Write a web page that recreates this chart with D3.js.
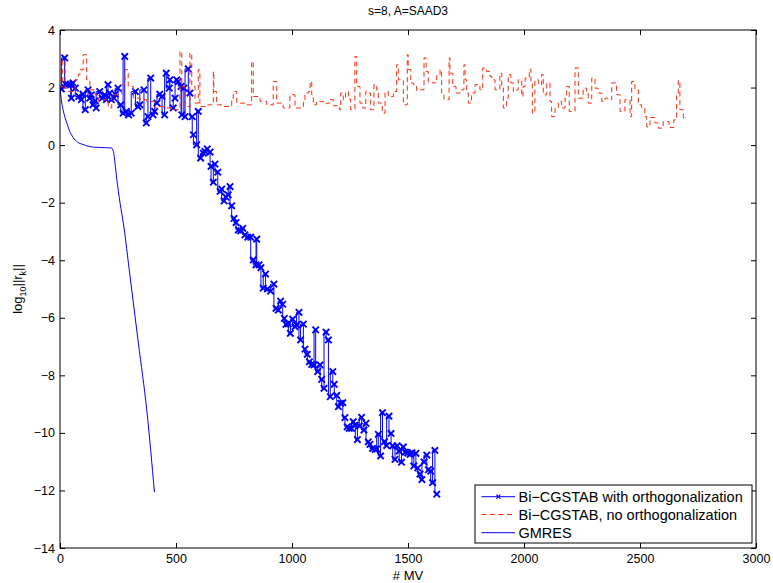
<!DOCTYPE html>
<html>
<head>
<meta charset="utf-8">
<script src="https://cdn.jsdelivr.net/npm/d3@7"></script>
<style>
  body { margin: 0; background: #fff; }
  svg { display: block; }
  text { font-family: "Liberation Sans", Arial, Helvetica, sans-serif; fill: #000; }
</style>
</head>
<body>
<svg id="chart" width="773" height="583"></svg>
<script>
// Residual histories: log10 of the residual norm against the number of matrix-vector products.

// Bi-CGSTAB with orthogonalization
const mvOrtho = [0,6,20,23,34,46,49,56,66,81, 92,99,109,121,128,135,142,152,156,171,
  182,193,200,207,214,221,233,238,250,262, 272,279,286,296,307,325,336,344,362,372,
  379,391,401,408,418,430,440,451,458,471, 474,488,496,503,510,522,525,534,539,553,
  560,570,575,589,596,606,618,625,635,647, 651,661,668,680,690,697,707,716,725,733,
  740,750,759,769,779,788,797,809,822,833, 845,848,858,866,876,886,894,908,922,931,
  941,951,960,967,974,984,993,1003,1013,1020, 1030,1037,1049,1056,1066,1075,1085,1095,1102,1111,
  1121,1128,1138,1147,1157,1165,1176,1182,1193,1200, 1210,1219,1228,1238,1247,1257,1264,1273,1282,1290,
  1300,1310,1319,1329,1336,1347,1358,1365,1372,1382, 1390,1399,1408,1418,1427,1434,1444,1453,1462,1472,
  1480,1489,1499,1509,1517,1525,1534,1542,1552,1560, 1569,1581,1588,1598,1606,1616,1624];
const resOrtho = [2.0,1.95,3.03,2.12,2.10,2.10,1.63,2.16,1.98,1.69, 1.58,1.77,1.23,1.92,1.63,1.75,1.40,1.54,1.29,1.86,
  1.63,1.75,1.58,2.10,1.81,1.58,1.63,1.77,1.98,1.40, 1.11,3.08,1.17,1.05,1.11,1.86,1.34,1.40,1.92,0.77,
  0.99,2.33,1.05,1.17,1.46,1.77,1.69,1.05,2.50,1.98, 2.27,1.29,1.63,2.27,2.21,2.04,1.05,1.98,0.99,2.65,
  1.81,0.99,0.36,0.01,1.17,-0.45,-0.28,-0.22,-0.13,-0.24, -0.74,-1.29,-0.66,-0.94,-1.61,-1.53,-1.94,-1.81,-1.73,-1.44,
  -2.11,-2.55,-2.69,-2.95,-2.98,-2.89,-3.12,-3.20,-3.20,-3.99, -4.16,-3.27,-4.16,-4.26,-4.97,-4.48,-5.00,-5.07,-4.83,-5.67,
  -5.73,-5.42,-5.53,-6.02,-6.23,-6.21,-6.54,-6.05,-6.31,-6.25, -5.81,-6.77,-6.22,-7.09,-7.27,-7.53,-7.62,-7.64,-6.42,-7.87,
  -7.64,-8.14,-8.45,-6.50,-6.77,-8.74,-7.87,-8.31,-8.70,-9.09, -8.97,-8.95,-9.47,-9.79,-9.84,-9.84,-9.61,-9.73,-10.23,-9.76,
  -9.46,-9.90,-9.67,-10.31,-10.40,-10.54,-10.57,-10.56,-10.05,-10.80, -9.30,-10.30,-10.44,-9.42,-10.02,-10.45,-10.92,-10.45,-10.63,-11.02,
  -10.49,-10.67,-10.70,-10.75,-10.69,-11.15,-10.71,-11.22,-11.43,-11.62, -11.01,-10.77,-11.28,-11.33,-11.73,-10.61,-12.13];

// Bi-CGSTAB without orthogonalization
const mvPlain = [0,3,12,22,36,57,65,79,86,100, 115,129,151,165,187,208,223,244,266,280,
  294,316,345,374,409,431,460,488,517,525, 539,560,568,582,596,603,632,661,663,675,
  697,740,747,762,797,826,833,862,891,919, 934,962,991,1013,1049,1056,1070,1078,1085,1092,
  1106,1135,1150,1164,1178,1204,1210,1221,1231,1243, 1253,1271,1279,1293,1305,1318,1332,1339,1353,1365,
  1372,1389,1401,1415,1437,1451,1458,1480,1497,1501, 1512,1523,1537,1552,1569,1578,1587,1609,1624,1638,
  1645,1655,1677,1681,1693,1707,1724,1741,1746,1753, 1760,1774,1789,1810,1822,1839,1853,1861,1875,1896,
  1904,1911,1925,1932,1943,1954,1968,1975,1990,1996, 2005,2023,2030,2036,2047,2062,2076,2083,2098,2112,
  2119,2134,2148,2162,2177,2184,2195,2220,2234,2255, 2270,2277,2292,2306,2320,2335,2349,2363,2378,2399,
  2414,2435,2457,2464,2478,2493,2507,2521,2529,2543, 2564,2579,2600,2625,2646,2658,2665,2672,2687,2697];
const resPlain = [1.99,2.04,2.97,1.98,1.86,1.86,2.27,2.45,2.62,3.14, 2.27,1.92,1.75,1.52,1.58,1.29,1.75,1.75,2.10,2.62,
  2.04,1.63,1.58,1.52,1.29,1.34,1.29,1.23,3.26,2.04, 1.34,3.20,2.04,1.46,2.62,1.34,1.40,2.56,1.86,1.40,
  1.34,1.63,1.86,1.46,1.40,2.91,1.69,1.52,1.40,2.21, 1.46,1.29,1.75,1.29,1.52,1.81,1.86,2.21,1.75,1.40,
  1.52,1.44,1.46,1.58,1.37,1.23,1.81,1.58,1.86,1.60, 1.23,3.08,2.04,1.46,1.29,1.86,1.81,1.23,2.10,1.92,
  1.46,1.11,1.86,1.69,1.86,2.79,2.27,1.40,3.14,2.62, 2.16,2.10,1.90,1.92,3.03,2.56,2.18,2.16,2.45,2.62,
  1.81,1.58,3.03,2.50,2.04,1.81,1.92,2.79,2.27,1.81, 1.46,1.81,2.10,1.92,2.68,2.56,2.39,2.27,1.92,2.50,
  2.04,1.29,1.63,2.45,2.16,1.86,1.92,2.27,1.69,2.04, 2.33,2.64,2.16,1.11,2.27,2.10,2.45,1.75,2.16,1.52,
  0.99,1.29,1.52,1.29,1.63,2.04,1.17,2.68,1.63,1.98, 1.86,1.46,2.33,1.98,1.81,1.52,1.63,1.58,2.16,1.75,
  1.17,1.58,0.99,2.21,1.92,1.40,1.29,0.99,0.63,0.96, 0.77,0.59,0.82,0.61,0.88,1.75,2.24,1.23,0.91,0.97];

// GMRES
const mvGmres = [0,3,7,14,22,30,40,57,75,100,144,200,222,230,245,259,273,302,338,374,407];
const resGmres = [2.0,1.75,1.5,1.2,0.95,0.75,0.52,0.26,0.11,0.02,-0.07,-0.09,-0.10,-0.22,-1.2,-2.02,-2.71,-4.57,-6.89,-9.21,-12.06];

const xTicks = [0,500,1000,1500,2000,2500,3000];
const yTicks = [-14,-12,-10,-8,-6,-4,-2,0,2,4];
const seriesNames = ["Bi\u2212CGSTAB with orthogonalization", "Bi\u2212CGSTAB, no orthogonalization", "GMRES"];
const titleText = "s=8, A=SAAD3";
const xLabelText = "# MV";

const svg = d3.select("#chart");
const plotL = 60, plotR = 756, plotT = 30, plotB = 548;
const x = d3.scaleLinear().domain([0, 3000]).range([plotL, plotR]);
const y = d3.scaleLinear().domain([-14, 4]).range([plotB, plotT]);

const blue = "#0000ff", red = "#f2300f";
const tickFont = "12.5px";

// axes with inward ticks on all four sides
const fmt = d => d < 0 ? "\u2212" + Math.abs(d) : String(d);
svg.append("g").attr("transform", `translate(0,${plotB})`)
  .call(d3.axisBottom(x).tickValues(xTicks).tickFormat(fmt).tickSizeInner(-5).tickSizeOuter(0).tickPadding(6.5))
  .call(g => g.selectAll("text").style("font-size", tickFont));
svg.append("g").attr("transform", `translate(0,${plotT})`)
  .call(d3.axisTop(x).tickValues(xTicks).tickFormat("").tickSizeInner(-5).tickSizeOuter(0));
svg.append("g").attr("transform", `translate(${plotL},0)`)
  .call(d3.axisLeft(y).tickValues(yTicks).tickFormat(fmt).tickSizeInner(-5).tickSizeOuter(0).tickPadding(5))
  .call(g => g.selectAll("text").style("font-size", tickFont));
svg.append("g").attr("transform", `translate(${plotR},0)`)
  .call(d3.axisRight(y).tickValues(yTicks).tickFormat("").tickSizeInner(-5).tickSizeOuter(0));
svg.selectAll(".domain").remove();
svg.selectAll(".tick line").attr("stroke", "#000").attr("stroke-width", 1);

// plot clip
svg.append("defs").append("clipPath").attr("id", "plotClip")
  .append("rect").attr("x", plotL).attr("y", plotT).attr("width", plotR - plotL).attr("height", plotB - plotT);
const plot = svg.append("g").attr("clip-path", "url(#plotClip)");

// Bi-CGSTAB with orthogonalization: solid line (residual updates at repeated MV counts) with x markers
const orthoPts = d3.zip(mvOrtho, resOrtho);
plot.append("path").datum(orthoPts)
  .attr("fill", "none").attr("stroke", blue).attr("stroke-width", 1)
  .attr("d", d3.line().x(d => x(d[0])).y(d => y(d[1])).curve(d3.curveStepBefore));
const xMark = r => `M${-r},${-r}L${r},${r}M${-r},${r}L${r},${-r}`;
plot.append("g").selectAll("path").data(orthoPts).join("path")
  .attr("transform", d => `translate(${x(d[0])},${y(d[1])})`)
  .attr("d", xMark(3.2)).attr("fill", "none").attr("stroke", blue).attr("stroke-width", 1.9);

// Bi-CGSTAB without orthogonalization: dashed
plot.append("path").datum(d3.zip(mvPlain, resPlain))
  .attr("fill", "none").attr("stroke", red).attr("stroke-width", 1)
  .attr("stroke-dasharray", "5,3.5")
  .attr("d", d3.line().x(d => x(d[0])).y(d => y(d[1])).curve(d3.curveStepAfter));

// GMRES: solid
plot.append("path").datum(d3.zip(mvGmres, resGmres))
  .attr("fill", "none").attr("stroke", blue).attr("stroke-width", 1)
  .attr("d", d3.line().x(d => x(d[0])).y(d => y(d[1])).curve(d3.curveMonotoneX));

// frame
svg.append("rect").attr("x", plotL).attr("y", plotT).attr("width", plotR - plotL).attr("height", plotB - plotT)
  .attr("fill", "none").attr("stroke", "#000").attr("stroke-width", 1);

// title and axis labels
svg.append("text").attr("x", (plotL + plotR) / 2).attr("y", 15).attr("text-anchor", "middle")
  .style("font-size", "12px").text(titleText);
svg.append("text").attr("x", (plotL + plotR) / 2).attr("y", 580).attr("text-anchor", "middle")
  .style("font-size", "13px").text(xLabelText);
const yl = svg.append("text").attr("transform", `translate(22,${(plotT + plotB) / 2}) rotate(-90)`)
  .attr("text-anchor", "middle").style("font-size", "13px");
yl.append("tspan").text("log");
yl.append("tspan").attr("dy", 4).style("font-size", "9px").text("10");
yl.append("tspan").attr("dy", -4).text("||r");
yl.append("tspan").attr("dy", 4).style("font-size", "9px").text("k");
yl.append("tspan").attr("dy", -4).text("||");

// legend
const lg = svg.append("g");
lg.append("rect").attr("x", 475).attr("y", 485).attr("width", 277).attr("height", 58)
  .attr("fill", "#fff").attr("stroke", "#000").attr("stroke-width", 1);
const rows = [496.7, 514.5, 532.7];
const styles = [
  { color: blue, dash: null, marker: true },
  { color: red, dash: "5,3.5", marker: false },
  { color: blue, dash: null, marker: false }
];
seriesNames.forEach((name, i) => {
  const s = styles[i];
  lg.append("line").attr("x1", 481.5).attr("x2", 515).attr("y1", rows[i]).attr("y2", rows[i])
    .attr("stroke", s.color).attr("stroke-width", 1).attr("stroke-dasharray", s.dash);
  if (s.marker) {
    lg.append("path").attr("transform", `translate(498.3,${rows[i]})`)
      .attr("d", xMark(2)).attr("fill", "none").attr("stroke", s.color).attr("stroke-width", 1.2);
  }
  lg.append("text").attr("x", 518.5).attr("y", rows[i]).attr("dy", "0.36em")
    .style("font-size", "14.5px").text(name);
});
</script>
</body>
</html>
